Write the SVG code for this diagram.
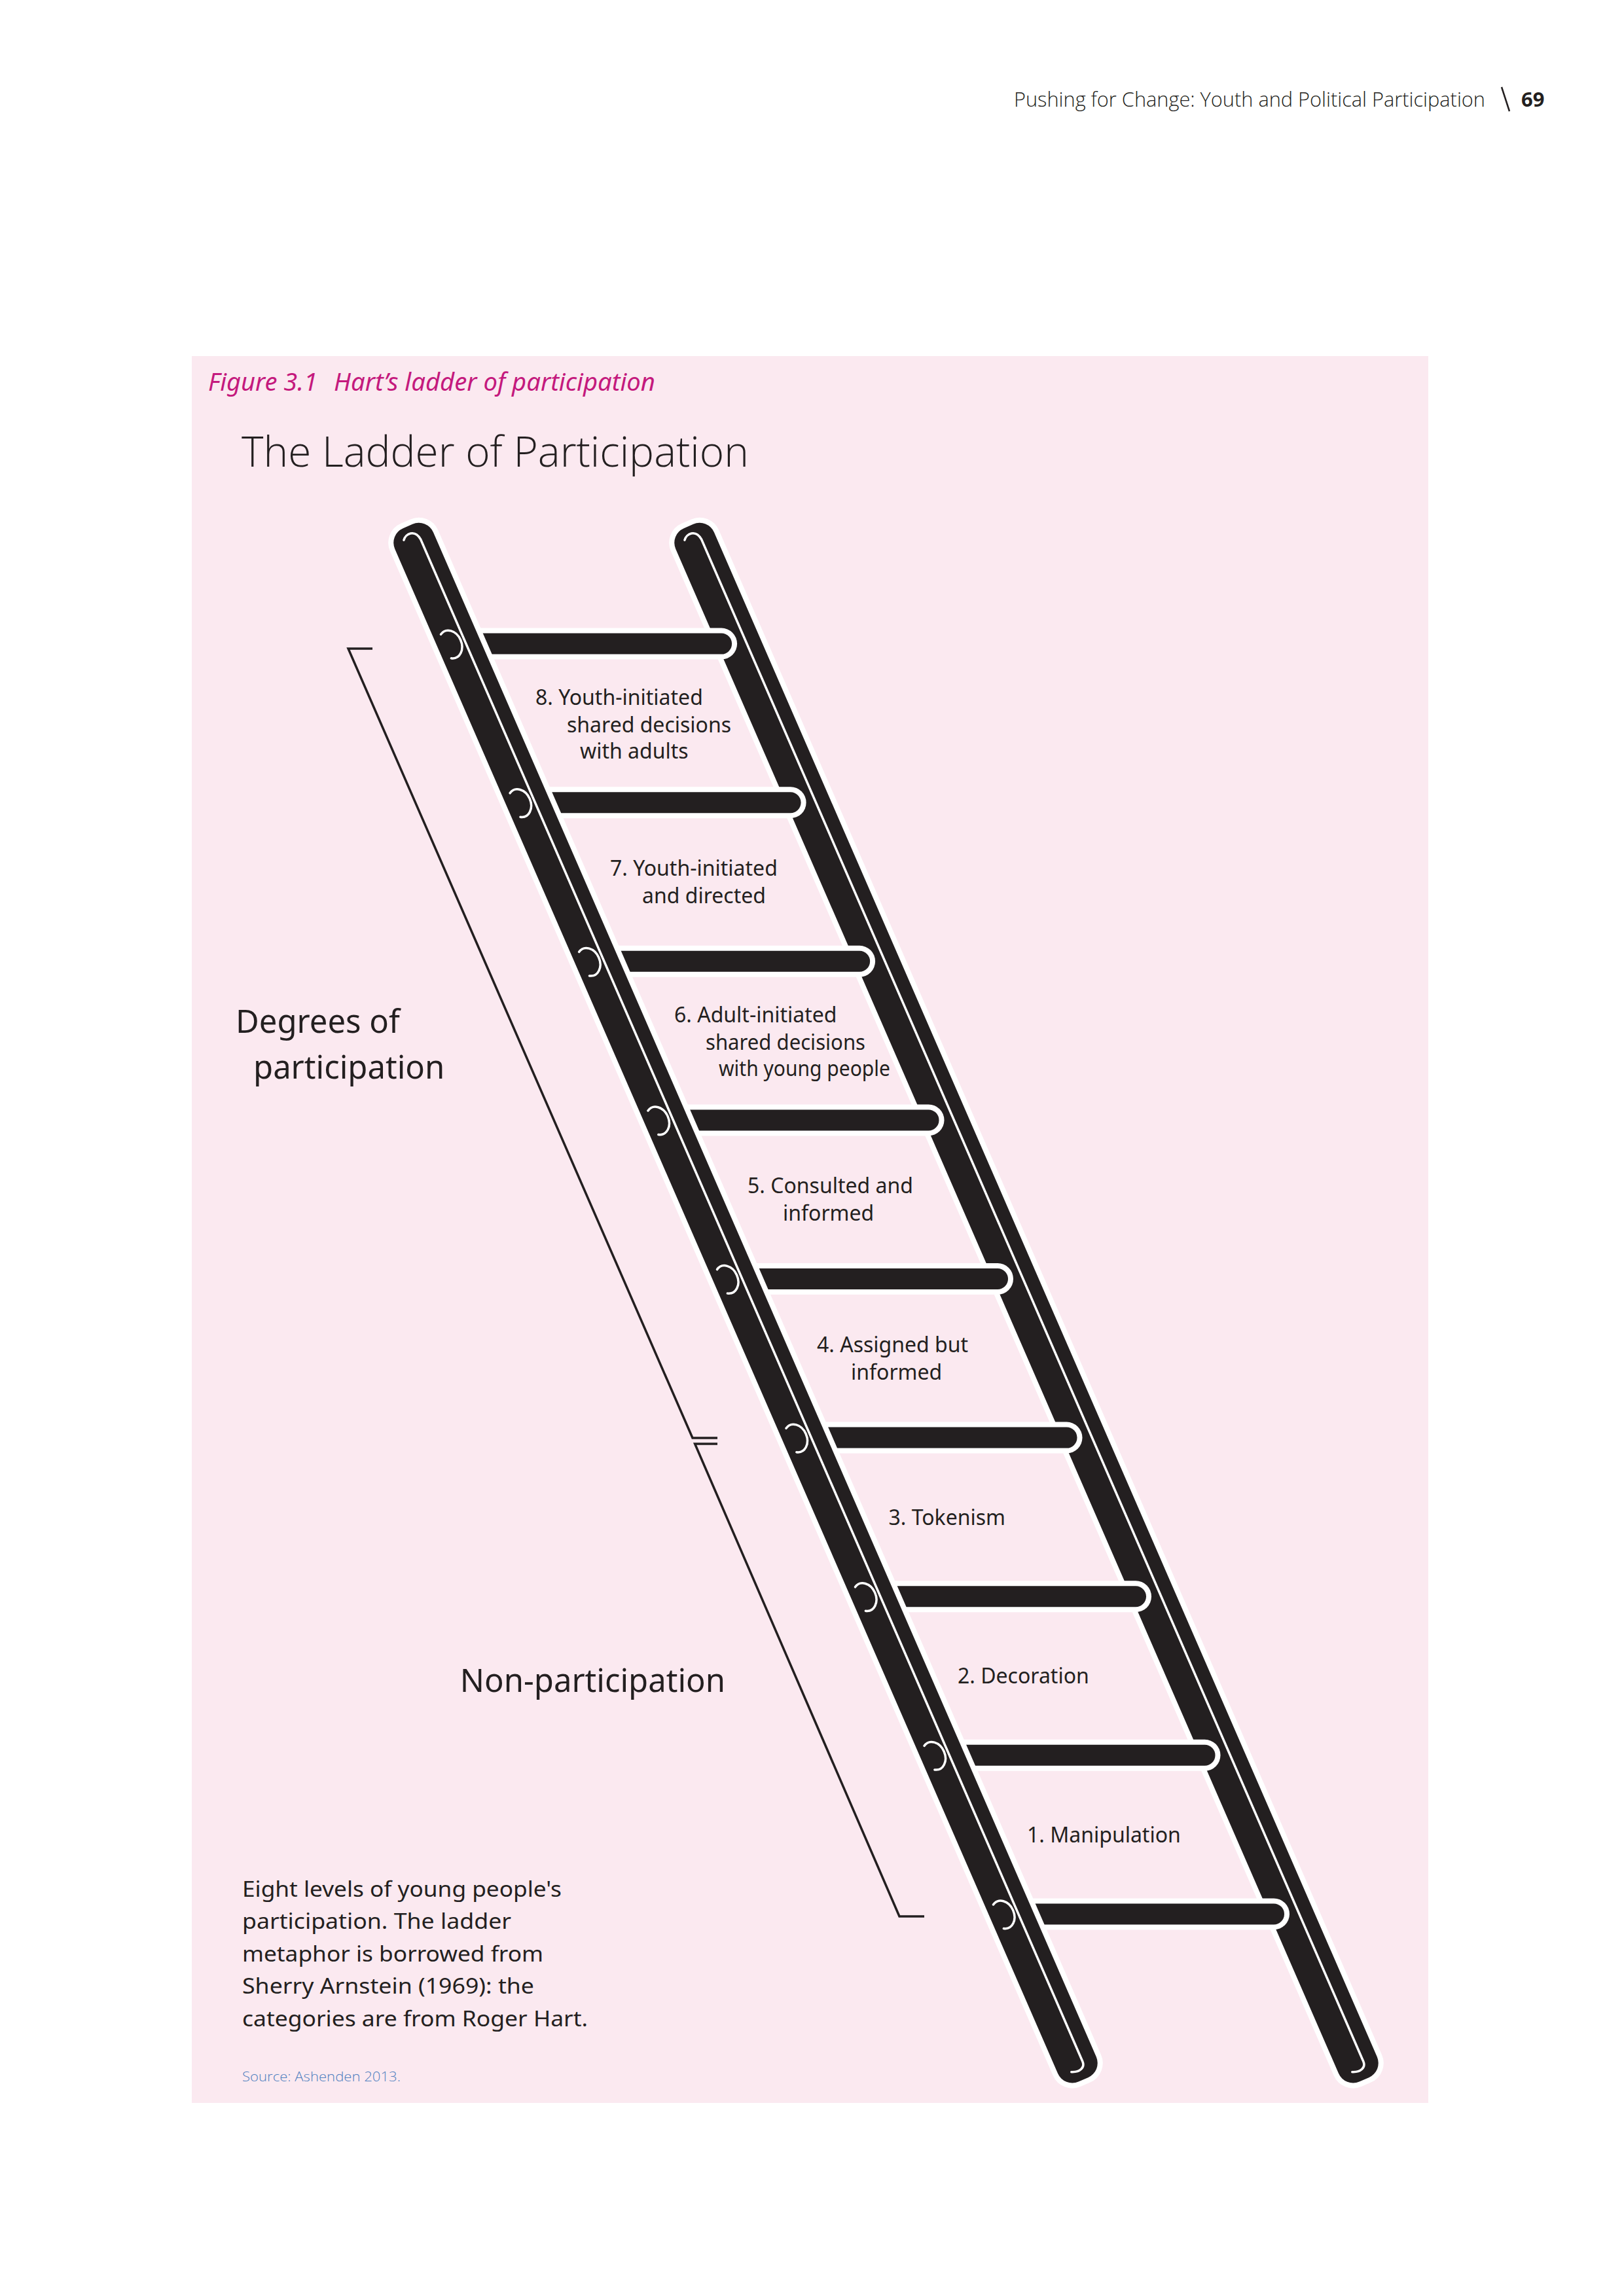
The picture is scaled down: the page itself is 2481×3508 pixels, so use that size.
<svg xmlns="http://www.w3.org/2000/svg" width="2481" height="3508" viewBox="0 0 2481 3508">
<style>
.bg{fill:#fbe9f0}
.light{font-family:"Open Sans","Noto Sans","Liberation Sans",sans-serif;font-weight:300;fill:#231f20}
.lbl{font-family:"Noto Sans","Open Sans","Liberation Sans",sans-serif;font-size:32px;fill:#231f20}
.side{font-family:"Noto Sans","Open Sans","Liberation Sans",sans-serif;font-size:49px;fill:#231f20}
.cap{font-family:"Noto Sans","Open Sans","Liberation Sans",sans-serif;font-size:33px;fill:#231f20}
.rail{fill:#231f20;stroke:#ffffff;stroke-width:16;paint-order:stroke}
.groove{fill:none;stroke:#ffffff;stroke-width:3.5;stroke-linecap:round}
.rungbg{stroke:#ffffff;stroke-width:48;stroke-linecap:round}
.rung{stroke:#231f20;stroke-width:32;stroke-linecap:round}
.bolt{fill:none;stroke:#ffffff;stroke-width:3.5;stroke-linecap:round}
.bracket{fill:none;stroke:#231f20;stroke-width:3.5}
</style>
<defs>
<path id="boltshape" class="bolt" d="M -7.2 -19.9 A 17 22 0 1 1 -7.2 19.9"/>
</defs>
<rect width="2481" height="3508" fill="#ffffff"/>
<g id="page-header">
<text class="light" x="1549" y="163" font-size="31" textLength="720" lengthAdjust="spacingAndGlyphs">Pushing for Change: Youth and Political Participation</text>
<line x1="2294" y1="133" x2="2306" y2="170" stroke="#231f20" stroke-width="2.5"/>
<text x="2324" y="163" font-family="'Noto Sans','Open Sans','Liberation Sans',sans-serif" font-weight="700" font-size="31" fill="#231f20">69</text>
</g>
<g id="figure-panel">
<rect class="bg" x="293" y="544" width="1889" height="2669"/>
</g>
<g id="figure-caption">
<text x="318" y="597" font-family="'Noto Sans','Open Sans','Liberation Sans',sans-serif" font-style="italic" font-size="38" fill="#c4197d"><tspan textLength="167" lengthAdjust="spacingAndGlyphs">Figure 3.1</tspan><tspan x="510" textLength="491" lengthAdjust="spacingAndGlyphs">Hart’s ladder of participation</tspan></text>
</g>
<g id="title">
<text class="light" x="369" y="713" font-size="64" textLength="775" lengthAdjust="spacingAndGlyphs">The Ladder of Participation</text>
</g>
<g id="ladder">
<g id="rail-right" transform="translate(1052,804) rotate(-23.5)">
<rect class="rail" x="-32" y="0" width="64" height="2588" rx="24"/>
<path class="groove" d="M -14 17 C -8 9 8 8 10 26 L 10 2562 C 10 2572 0 2576 -12 2570"/>
</g>
<g id="rungs">
<line class="rungbg" x1="701.1" y1="983.6" x2="1102.1" y2="983.6"/><line class="rung" x1="701.1" y1="983.6" x2="1102.1" y2="983.6"/>
<line class="rungbg" x1="806.6" y1="1226.2" x2="1207.6" y2="1226.2"/><line class="rung" x1="806.6" y1="1226.2" x2="1207.6" y2="1226.2"/>
<line class="rungbg" x1="912.1" y1="1468.8" x2="1313.1" y2="1468.8"/><line class="rung" x1="912.1" y1="1468.8" x2="1313.1" y2="1468.8"/>
<line class="rungbg" x1="1017.5" y1="1711.4" x2="1418.5" y2="1711.4"/><line class="rung" x1="1017.5" y1="1711.4" x2="1418.5" y2="1711.4"/>
<line class="rungbg" x1="1123" y1="1954" x2="1524" y2="1954"/><line class="rung" x1="1123" y1="1954" x2="1524" y2="1954"/>
<line class="rungbg" x1="1228.5" y1="2196.6" x2="1629.5" y2="2196.6"/><line class="rung" x1="1228.5" y1="2196.6" x2="1629.5" y2="2196.6"/>
<line class="rungbg" x1="1334" y1="2439.2" x2="1735" y2="2439.2"/><line class="rung" x1="1334" y1="2439.2" x2="1735" y2="2439.2"/>
<line class="rungbg" x1="1439.5" y1="2681.8" x2="1840.5" y2="2681.8"/><line class="rung" x1="1439.5" y1="2681.8" x2="1840.5" y2="2681.8"/>
<line class="rungbg" x1="1545" y1="2924.4" x2="1946" y2="2924.4"/><line class="rung" x1="1545" y1="2924.4" x2="1946" y2="2924.4"/>
</g>
<g id="rail-left" transform="translate(623,804) rotate(-23.5)">
<rect class="rail" x="-32" y="0" width="64" height="2588" rx="24"/>
<path class="groove" d="M -14 17 C -8 9 8 8 10 26 L 10 2562 C 10 2572 0 2576 -12 2570"/>
</g>
<g id="bolts">
<use href="#boltshape" transform="translate(688,984.6) rotate(-23.5)"/>
<use href="#boltshape" transform="translate(793.6,1227.2) rotate(-23.5)"/>
<use href="#boltshape" transform="translate(899.1,1469.8) rotate(-23.5)"/>
<use href="#boltshape" transform="translate(1004.5,1712.4) rotate(-23.5)"/>
<use href="#boltshape" transform="translate(1110,1955) rotate(-23.5)"/>
<use href="#boltshape" transform="translate(1215.5,2197.6) rotate(-23.5)"/>
<use href="#boltshape" transform="translate(1321,2440.2) rotate(-23.5)"/>
<use href="#boltshape" transform="translate(1426.5,2682.8) rotate(-23.5)"/>
<use href="#boltshape" transform="translate(1532,2925.4) rotate(-23.5)"/>
</g>
</g>
<g id="level-8">
<text class="lbl" x="818" y="1077">8. Youth-initiated</text>
<text class="lbl" x="866" y="1118.5">shared decisions</text>
<text class="lbl" x="886" y="1159">with adults</text>
</g>
<g id="level-7">
<text class="lbl" x="932" y="1338">7. Youth-initiated</text>
<text class="lbl" x="981" y="1380">and directed</text>
</g>
<g id="level-6">
<text class="lbl" x="1030" y="1562">6. Adult-initiated</text>
<text class="lbl" x="1078" y="1603.5" textLength="244" lengthAdjust="spacingAndGlyphs">shared decisions</text>
<text class="lbl" x="1098" y="1644" textLength="262" lengthAdjust="spacingAndGlyphs">with young people</text>
</g>
<g id="level-5">
<text class="lbl" x="1142" y="1823">5. Consulted and</text>
<text class="lbl" x="1196" y="1865">informed</text>
</g>
<g id="level-4">
<text class="lbl" x="1248" y="2066">4. Assigned but</text>
<text class="lbl" x="1300" y="2107.5">informed</text>
</g>
<g id="level-3">
<text class="lbl" x="1357.5" y="2329.5">3. Tokenism</text>
</g>
<g id="level-2">
<text class="lbl" x="1463" y="2572">2. Decoration</text>
</g>
<g id="level-1">
<text class="lbl" x="1569" y="2815">1. Manipulation</text>
</g>
<g id="connectors">
<path class="bracket" d="M 569 991 L 532 991 L 1058 2197 L 1096 2197"/>
<path class="bracket" d="M 1096 2206 L 1061.6 2206 L 1374 2928 L 1412 2928"/>
</g>
<g id="degrees-of-participation">
<text class="side" x="360" y="1578">Degrees of</text>
<text class="side" x="387" y="1648">participation</text>
</g>
<g id="non-participation">
<text class="side" x="1108" y="2585" text-anchor="end">Non-participation</text>
</g>
<g id="note">
<text class="cap" x="370" y="2898" textLength="488" lengthAdjust="spacingAndGlyphs">Eight levels of young people's</text>
<text class="cap" x="370" y="2947" textLength="411" lengthAdjust="spacingAndGlyphs">participation. The ladder</text>
<text class="cap" x="370" y="2997" textLength="460" lengthAdjust="spacingAndGlyphs">metaphor is borrowed from</text>
<text class="cap" x="370" y="3046" textLength="446" lengthAdjust="spacingAndGlyphs">Sherry Arnstein (1969): the</text>
<text class="cap" x="370" y="3096" textLength="528" lengthAdjust="spacingAndGlyphs">categories are from Roger Hart.</text>
<text x="370" y="3180" font-family="'Open Sans','Noto Sans','Liberation Sans',sans-serif" font-weight="300" font-size="21" fill="#4f7fbf" textLength="242" lengthAdjust="spacingAndGlyphs">Source: Ashenden 2013.</text>
</g>
</svg>
